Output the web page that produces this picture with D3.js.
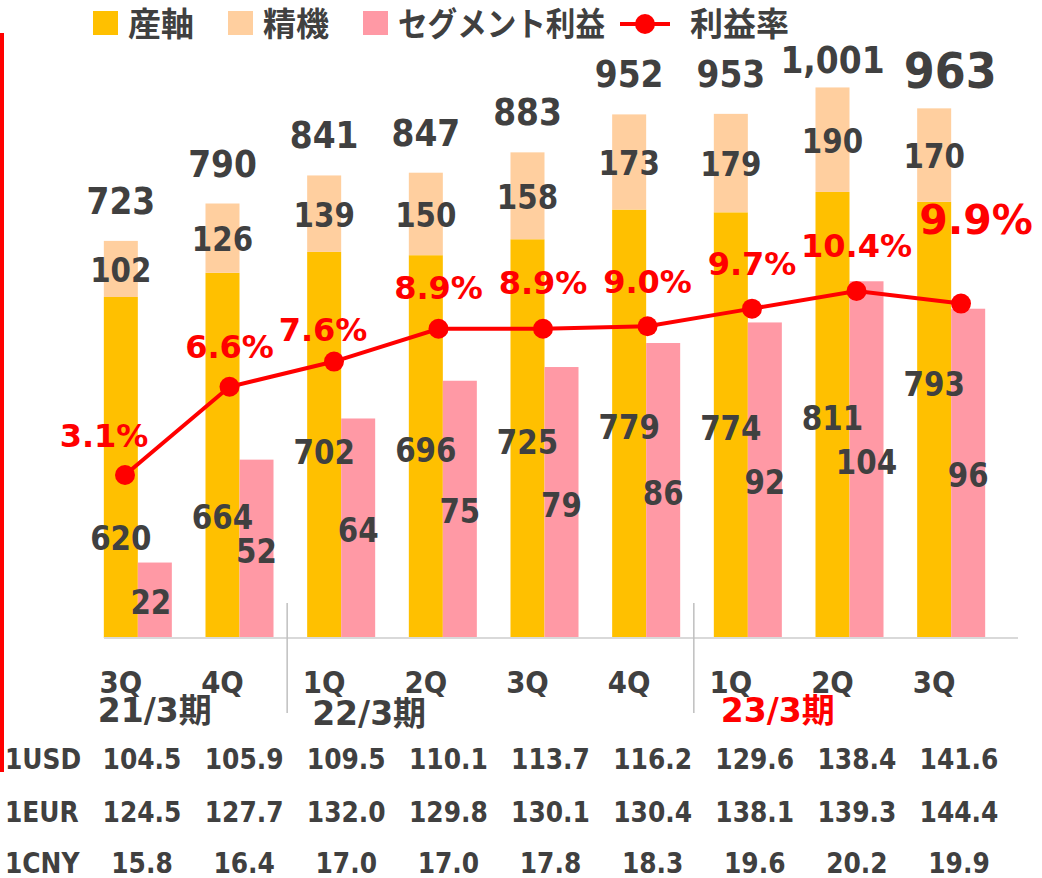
<!DOCTYPE html>
<html>
<head>
<meta charset="utf-8">
<script src="https://cdn.jsdelivr.net/npm/d3@7"></script>
<style>
  body { margin: 0; background: #fff; }
  svg { display: block; }
</style>
</head>
<body>
<svg id="chart" width="1042" height="878"></svg>
<script>
const width = 1042;
const height = 878;

// data
const quarters = ["3Q", "4Q", "1Q", "2Q", "3Q", "4Q", "1Q", "2Q", "3Q"];
const sanjiku = [620, 664, 702, 696, 725, 779, 774, 811, 793];
const seiki = [102, 126, 139, 150, 158, 173, 179, 190, 170];
const totals = [723, 790, 841, 847, 883, 952, 953, 1001, 963];
const profit = [22, 52, 64, 75, 79, 86, 92, 104, 96];
const margin = [3.1, 6.6, 7.6, 8.9, 8.9, 9.0, 9.7, 10.4, 9.9];
const periods = ["21/3期", "22/3期", "23/3期"];
const periodStart = [0, 2, 6];
const rateNames = ["1USD", "1EUR", "1CNY"];
const usd = [104.5, 105.9, 109.5, 110.1, 113.7, 116.2, 129.6, 138.4, 141.6];
const eur = [124.5, 127.7, 132.0, 129.8, 130.1, 130.4, 138.1, 139.3, 144.4];
const cny = [15.8, 16.4, 17.0, 17.0, 17.8, 18.3, 19.6, 20.2, 19.9];

const C_SAN = "#FFC000";
const C_SEI = "#FFCF9F";
const C_PROF = "#FF99A5";
const C_RED = "#FF0000";
const C_TXT = "#404040";
const LATIN = "'DejaVu Sans', 'Noto Sans CJK JP', sans-serif";
const CJK = "'Noto Sans CJK JP', sans-serif";
const SX = 0.89; // horizontal squeeze of the original slide text

const svg = d3.select("#chart");
const idx = d3.range(quarters.length);

const x = d3.scaleBand().domain(idx).range([87, 1002])
  .paddingInner(0.331).paddingOuter(0.1655);
const bw = x.bandwidth() / 2;
const xLine = d3.scalePoint().domain(idx).range([125, 961]);
const xTable = d3.scalePoint().domain(idx).range([142, 959]);

const yAmt = d3.scaleLinear().domain([0, 1000]).range([638, 88]);
const yProfit = d3.scaleLinear().domain([0, 100]).range([638, 295]);
const yRate = d3.scaleLinear().domain([-3.37, 10.4]).range([638, 291]);

function label(g, px, py, str, size, opts = {}) {
  const sx = opts.sx === undefined ? SX : opts.sx;
  return g.append("text")
    .attr("transform", `translate(${px},${py}) scale(${sx},1)`)
    .attr("text-anchor", opts.anchor || "middle")
    .attr("font-family", opts.font || LATIN)
    .attr("font-weight", "bold")
    .attr("font-size", size)
    .attr("fill", opts.color || C_TXT)
    .text(str);
}

// red frame edge on the left
svg.append("rect").attr("x", 0).attr("y", 33).attr("width", 4).attr("height", 739)
  .attr("fill", C_RED);

// bars
const bars = svg.append("g");
bars.selectAll("rect.san").data(idx).enter().append("rect")
  .attr("x", (i) => x(i)).attr("width", bw)
  .attr("y", (i) => yAmt(sanjiku[i]))
  .attr("height", (i) => yAmt(0) - yAmt(sanjiku[i]))
  .attr("fill", C_SAN);
bars.selectAll("rect.sei").data(idx).enter().append("rect")
  .attr("x", (i) => x(i)).attr("width", bw)
  .attr("y", (i) => yAmt(sanjiku[i] + seiki[i]))
  .attr("height", (i) => yAmt(sanjiku[i]) - yAmt(sanjiku[i] + seiki[i]))
  .attr("fill", C_SEI);
bars.selectAll("rect.prof").data(idx).enter().append("rect")
  .attr("x", (i) => x(i) + bw).attr("width", bw)
  .attr("y", (i) => yProfit(profit[i]))
  .attr("height", (i) => yProfit(0) - yProfit(profit[i]))
  .attr("fill", C_PROF);

// baseline
svg.append("line").attr("x1", 104).attr("x2", 1018)
  .attr("y1", yAmt(0)).attr("y2", yAmt(0))
  .attr("stroke", "#D9D9D9").attr("stroke-width", 2);

// period separators
[2, 6].forEach((i) => {
  svg.append("line").attr("x1", x(i) - 20).attr("x2", x(i) - 20)
    .attr("y1", 603).attr("y2", 713)
    .attr("stroke", "#BFBFBF").attr("stroke-width", 1.5);
});

// value labels
const labels = svg.append("g");
const sanShift = [67, 59, 4, 0, 0, 0, 0, 0, -39];
idx.forEach((i) => {
  const cx = x(i) + bw / 2;
  const midSan = (yAmt(0) + yAmt(sanjiku[i])) / 2;
  label(labels, cx, midSan + 15 + sanShift[i], sanjiku[i], 33);
  const midSei = (yAmt(sanjiku[i]) + yAmt(sanjiku[i] + seiki[i])) / 2;
  label(labels, cx, midSei + 13, seiki[i], 33);
  const top = yAmt(sanjiku[i] + seiki[i]);
  const last = i === idx.length - 1;
  const gap = totals[i] >= 1000 ? 14 : last ? 20 : 27;
  label(labels, cx + (last ? 16 : 0), top - gap, d3.format(",")(totals[i]), last ? 50 : 37);
  const midProf = (yProfit(0) + yProfit(profit[i])) / 2;
  label(labels, x(i) + bw * 1.5 - (i === 0 ? 4 : 0), midProf + 14, profit[i], 33);
});

// margin line
const line = d3.line().x((d, i) => xLine(i)).y((d) => yRate(d));
svg.append("path").datum(margin).attr("d", line)
  .attr("fill", "none").attr("stroke", C_RED).attr("stroke-width", 4);
svg.append("g").selectAll("circle").data(margin).enter().append("circle")
  .attr("cx", (d, i) => xLine(i)).attr("cy", (d) => yRate(d)).attr("r", 10)
  .attr("fill", C_RED);

const pctDx = [-21, 0, -11, 0, 0, 0, 0, 0, 15];
const pctDy = [-28, -29, -21, -30, -35, -33, -34, -34, -70];
margin.forEach((v, i) => {
  const last = i === margin.length - 1;
  label(svg, xLine(i) + pctDx[i], yRate(v) + pctDy[i], v.toFixed(1) + "%",
    last ? 41 : 32, { color: C_RED, sx: 1 });
});

// category axis
quarters.forEach((q, i) => {
  label(svg, x(i) + bw / 2, 693, q, 31);
});
const periodDx = [-6, 5, 7];
periods.forEach((p, k) => {
  label(svg, x(periodStart[k]) + periodDx[k], k === 1 ? 725 : 722, p, 33,
    { anchor: "start", sx: 1, color: k === 2 ? C_RED : C_TXT });
});

// exchange rate table
[usd, eur, cny].forEach((row, r) => {
  const by = [769, 822, 873][r];
  label(svg, 5, by, rateNames[r], 28, { anchor: "start" });
  row.forEach((v, i) => {
    label(svg, xTable(i), by, v.toFixed(1), 28);
  });
});

// legend
const legend = svg.append("g");
const legendItems = [
  { name: "産軸", color: C_SAN, x: 93 },
  { name: "精機", color: C_SEI, x: 228 },
  { name: "セグメント利益", color: C_PROF, x: 363 }
];
legendItems.forEach((d) => {
  legend.append("rect").attr("x", d.x).attr("y", 11).attr("width", 25).attr("height", 24)
    .attr("fill", d.color);
  const t = label(legend, d.x + 35, 36, d.name, 33, { anchor: "start", font: CJK, sx: 1 });
  if (d.name.length > 2) t.attr("textLength", 207).attr("lengthAdjust", "spacingAndGlyphs");
});
legend.append("line").attr("x1", 620).attr("x2", 670).attr("y1", 24).attr("y2", 24)
  .attr("stroke", C_RED).attr("stroke-width", 4);
legend.append("circle").attr("cx", 645).attr("cy", 24).attr("r", 10).attr("fill", C_RED);
label(legend, 690, 36, "利益率", 33, { anchor: "start", font: CJK, sx: 1 });
</script>
</body>
</html>
